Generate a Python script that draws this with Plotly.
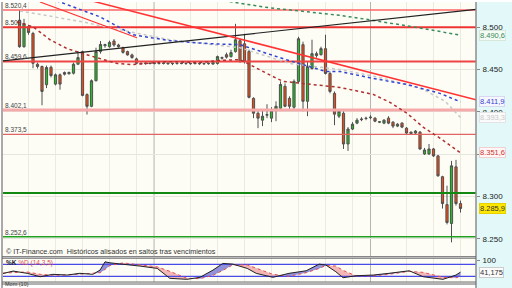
import plotly.graph_objects as go

# ---------------- data ----------------
idx = list(range(99))
opens = [8508.3,8477.0,8500.5,8492.6,8456.3,8453.6,8432.1,8452.7,8432.8,8443.8,
         8446.5,8445.0,8445.7,8456.3,8471.1,8420.4,8406.6,8436.8,8471.2,8478.2,
         8477.0,8483.7,8479.0,8475.8,8471.2,8467.3,8462.6,8457.4,8457.0,8457.6,
         8457.1,8457.5,8457.2,8457.8,8457.0,8457.4,8457.1,8457.5,8457.3,8457.0,
         8456.8,8457.3,8456.9,8456.5,8457.1,8464.1,8467.6,8465.3,8471.2,8484.1,
         8480.5,8471.2,8416.0,8398.4,8390.2,8396.1,8392.6,8403.1,8404.3,8430.1,
         8416.0,8405.5,8436.0,8479.4,8412.5,8451.2,8468.8,8467.6,8474.7,8445.3,
         8421.9,8394.9,8398.4,8362.1,8379.7,8386.7,8390.8,8392.6,8393.1,8392.6,
         8387.9,8386.7,8392.6,8387.9,8383.2,8386.7,8380.8,8376.1,8375.0,8376.1,
         8350.3,8350.3,8356.2,8348.0,8323.4,8290.5,8268.2,8335.1,8291.7]
highs = [8520.4,8509.9,8502.8,8494.6,8458.2,8454.7,8454.7,8454.7,8445.3,8445.3,
         8447.7,8447.7,8458.2,8472.0,8472.3,8421.9,8438.3,8475.8,8483.7,8480.5,
         8484.1,8486.0,8480.5,8477.0,8472.3,8468.8,8464.1,8458.5,8458.4,8458.6,
         8458.9,8458.3,8458.6,8458.5,8458.0,8458.3,8458.2,8458.5,8458.0,8458.4,
         8458.2,8458.0,8458.4,8459.4,8466.5,8465.3,8470.0,8473.5,8504.0,8486.4,
         8492.3,8473.5,8417.2,8400.8,8402.0,8409.0,8405.5,8412.5,8436.0,8433.6,
         8418.4,8438.3,8488.7,8482.9,8459.4,8485.2,8471.2,8477.0,8491.1,8447.7,
         8424.2,8403.1,8400.8,8382.0,8387.9,8392.6,8393.7,8394.3,8396.1,8393.7,
         8389.0,8391.4,8394.9,8389.0,8386.7,8387.9,8382.0,8376.7,8378.5,8377.3,
         8357.4,8362.1,8357.4,8349.2,8324.5,8312.8,8342.1,8343.3,8295.2]
lows = [8475.8,8475.8,8491.1,8451.6,8451.2,8407.8,8428.1,8440.7,8431.3,8426.2,
        8443.0,8444.2,8444.2,8455.9,8418.4,8396.9,8405.5,8436.0,8468.8,8475.8,
        8475.8,8477.0,8475.8,8468.8,8466.5,8462.9,8456.5,8456.0,8455.8,8456.2,
        8456.1,8455.9,8456.0,8455.6,8455.2,8455.9,8456.2,8455.5,8455.8,8456.1,
        8455.6,8455.5,8455.8,8455.8,8455.9,8461.8,8463.0,8464.1,8470.0,8458.2,
        8457.1,8416.0,8392.6,8380.8,8383.2,8392.6,8387.9,8389.0,8403.1,8405.5,
        8403.1,8403.1,8433.6,8400.8,8394.9,8450.0,8464.1,8466.5,8444.2,8421.9,
        8384.3,8392.6,8356.2,8353.9,8378.5,8385.5,8389.0,8390.2,8391.4,8387.9,
        8386.7,8385.5,8385.5,8380.8,8382.0,8380.8,8373.8,8373.8,8373.8,8355.0,
        8349.2,8349.2,8346.8,8323.4,8285.8,8267.1,8245.9,8289.3,8281.1]
closes = [8477.0,8504.3,8493.8,8457.4,8453.6,8424.2,8452.4,8443.0,8443.8,8432.8,
          8444.5,8446.5,8456.3,8464.1,8419.5,8406.6,8436.8,8471.2,8479.7,8479.4,
          8482.1,8479.0,8477.0,8470.3,8467.3,8464.1,8457.4,8457.0,8457.6,8457.1,
          8457.9,8457.2,8457.8,8457.0,8457.4,8457.1,8457.5,8457.3,8457.0,8457.6,
          8457.3,8456.9,8457.4,8458.6,8465.3,8463.5,8464.7,8470.0,8485.2,8459.4,
          8459.4,8417.2,8398.4,8392.6,8394.9,8396.7,8402.0,8406.6,8432.4,8406.6,
          8406.6,8436.0,8486.4,8412.5,8453.6,8468.8,8466.5,8474.7,8445.3,8424.2,
          8397.3,8400.8,8362.1,8379.7,8385.5,8390.2,8391.4,8392.2,8393.7,8389.0,
          8388.3,8390.2,8386.7,8383.2,8385.5,8382.0,8375.0,8374.4,8377.3,8356.2,
          8355.0,8356.2,8348.0,8324.5,8291.7,8269.4,8336.3,8291.7,8285.9]

# horizontal support / resistance levels
level_values = [8520.4, 8500.0, 8459.6, 8402.1, 8373.5, 8304.2, 8252.6]
level_labels = ["8.520,4", "8.500", "8.459,6", "8.402,1", "8.373,5", "", "8.252,6"]

# trend lines (start / end points)
black_trend_x = [-3.67, 101.44]
black_trend_y = [8460.2, 8521.2]
red_trend_x = [15.0, 101.44]
red_trend_y = [8532.6, 8414.3]
red_short_x = [4.56, 26.1]
red_short_y = [8529.8, 8487.6]

# dotted indicator lines
green_x = [40.1, 46.8, 55.7, 62.3, 71.2, 77.9, 86.8, 90.1, 98]
green_y = [8535.7, 8529.8, 8522.8, 8519.2, 8514.0, 8508.7, 8501.6, 8498.1, 8490.6]
blue_x = [5.7, 9, 17.9, 25.2, 33.4, 42.3, 49, 59.2, 68.1, 71.2, 78.6, 86.1, 93.4, 98]
blue_y = [8535.7, 8529.8, 8512.2, 8491.1, 8484.1, 8480.5, 8479.4, 8461.8, 8447.7,
          8447.7, 8439.5, 8432.4, 8421.9, 8411.9]
gray_x = [0.1, 14.1, 20.1, 33.4, 49, 60.1, 71.2, 80.1, 89.7, 94.6, 98]
gray_y = [8519.2, 8506.3, 8499.3, 8485.2, 8475.8, 8457.1, 8450.0, 8440.7, 8426.6,
          8412.5, 8393.3]
darkred_x = [-0.6, 3, 6.8, 10.6, 14.1, 17.9, 21.7, 25.2, 32.8, 40.1, 43.9, 49, 53.2,
             56.3, 58.6, 63, 71.2, 78.6, 82.3, 86.1, 89.7, 93.4, 98]
darkred_y = [8506.3, 8500.5, 8485.2, 8474.7, 8468.8, 8462.9, 8457.1, 8455.9, 8459.4,
             8458.2, 8460.6, 8461.8, 8450.0, 8441.8, 8436.0, 8433.6, 8428.9, 8420.7,
             8411.3, 8398.4, 8382.0, 8369.1, 8351.6]

# stochastic %K %D (14,3,5)
stoch_x = [-3.7, -1.4, 1.7, 4.6, 7.4, 10.6, 13.4, 16.3, 17.9, 19, 20.1, 23, 26.8, 30.6,
           33.4, 37.2, 40.1, 43, 45.2, 47.4, 50.6, 52.6, 56.3, 59.9, 63.7, 66.6, 68.1,
           70.3, 71.9, 74.8, 78.6, 82.1, 86.6, 89.7, 94.1, 97, 98]
stoch_k = [34, 46.5, 35, 17.8, 29.8, 26.3, 35, 29.8, 51.5, 93.4, 88.3, 81.8, 71.7, 60.1,
           9.7, 4.6, 14.7, 51.5, 85.3, 81.8, 60.1, 35, 14.7, 35, 48, 81.8, 76.7, 43, 12.7,
           22.8, 26.3, 35, 48, 17.8, 4.6, 26.3, 41.175]
stoch_d = [36, 40, 42, 30, 25, 27, 30, 33, 38, 55, 75, 88, 78, 68, 45, 10, 8, 25, 50, 78,
           78, 62, 30, 20, 38, 60, 75, 72, 50, 22, 22, 30, 45, 40, 15, 12, 20]
stoch_levels = [80, 20]

price_ticks = [8250, 8300, 8350, 8400, 8450, 8500]
price_ticktext = ["8.250", "8.300", "", "8.400", "8.450", "8.500"]

# ---------------- figure ----------------
W, H = 512, 288
XR = [-3.667, 101.444]
grid_x = [2, 8, 14, 20, 26, 38, 44, 50, 56, 62, 68, 74, 86, 92, 98]
sep_x = [29.9, 78.0]
FONT = "Liberation Sans, Arial, sans-serif"

fig = go.Figure()

level_styles = [("#ff6666", 1.5), ("#ee3333", 2), ("#f04444", 2), ("#f5a9a9", 3),
                ("#e06464", 1.2), ("#128a12", 2), ("#22a022", 1.5)]
for v, (c, w) in zip(level_values, level_styles):
    fig.add_trace(go.Scatter(x=XR, y=[v, v], mode="lines", line=dict(color=c, width=w),
                             hoverinfo="skip", showlegend=False))

for xs, ys, c, w, dash in [
    (gray_x, gray_y, "#c8c8c8", 1.5, "dot"),
    (green_x, green_y, "#3a8a5c", 1.5, "dot"),
    (blue_x, blue_y, "#3344d0", 1.5, "dot"),
    (darkred_x, darkred_y, "#b03030", 1.5, "dot"),
    (black_trend_x, black_trend_y, "#222222", 1.2, "solid"),
    (red_trend_x, red_trend_y, "#ff3333", 1.5, "solid"),
    (red_short_x, red_short_y, "#ff3333", 1.2, "solid"),
]:
    fig.add_trace(go.Scatter(x=xs, y=ys, mode="lines", line=dict(color=c, width=w, dash=dash),
                             hoverinfo="skip", showlegend=False))

fig.add_trace(go.Candlestick(
    x=idx, open=opens, high=highs, low=lows, close=closes,
    increasing=dict(fillcolor="#1ec01e", line=dict(color="#505050", width=1)),
    decreasing=dict(fillcolor="#ee4a14", line=dict(color="#505050", width=1)),
    whiskerwidth=0, showlegend=False, hoverinfo="skip"))

# stochastic fills
blue_px, blue_py, pink_px, pink_py = [], [], [], []
for j in range(len(stoch_x) - 1):
    x0, x1 = stoch_x[j], stoch_x[j + 1]
    k0, k1, d0, d1 = stoch_k[j], stoch_k[j + 1], stoch_d[j], stoch_d[j + 1]
    a0, a1 = k0 - d0, k1 - d1
    if a0 * a1 >= 0:
        tx, ty = (blue_px, blue_py) if (a0 + a1) >= 0 else (pink_px, pink_py)
        tx += [x0, x1, x1, x0, x0, None]
        ty += [k0, k1, d1, d0, k0, None]
    else:
        t = a0 / (a0 - a1)
        xc, yc = x0 + t * (x1 - x0), k0 + t * (k1 - k0)
        tx, ty = (blue_px, blue_py) if a0 > 0 else (pink_px, pink_py)
        tx += [x0, xc, x0, x0, None]
        ty += [k0, yc, d0, k0, None]
        tx, ty = (blue_px, blue_py) if a1 > 0 else (pink_px, pink_py)
        tx += [xc, x1, x1, xc, None]
        ty += [yc, k1, d1, yc, None]
fig.add_trace(go.Scatter(x=blue_px, y=blue_py, mode="lines", fill="toself",
                         fillcolor="rgba(110,110,210,0.75)", line=dict(width=0),
                         xaxis="x2", yaxis="y2", hoverinfo="skip", showlegend=False))
fig.add_trace(go.Scatter(x=pink_px, y=pink_py, mode="lines", fill="toself",
                         fillcolor="rgba(242,170,170,0.85)", line=dict(width=0),
                         xaxis="x2", yaxis="y2", hoverinfo="skip", showlegend=False))
for v in stoch_levels:
    fig.add_trace(go.Scatter(x=XR, y=[v, v], mode="lines", line=dict(color="#4a4ae8", width=1.2),
                             xaxis="x2", yaxis="y2", hoverinfo="skip", showlegend=False))
fig.add_trace(go.Scatter(x=stoch_x, y=stoch_d, mode="lines",
                         line=dict(color="#e05050", width=1, dash="dot"),
                         xaxis="x2", yaxis="y2", hoverinfo="skip", showlegend=False))
fig.add_trace(go.Scatter(x=stoch_x, y=stoch_k, mode="lines",
                         line=dict(color="#222222", width=1),
                         xaxis="x2", yaxis="y2", hoverinfo="skip", showlegend=False))

XD = [3 / W, 476 / W]
main_dom = [1 - 256 / H, 1]
stoch_dom = [1 - 282 / H, 1 - 258 / H]

shapes = []
# right axis panel background
shapes.append(dict(type="rect", xref="paper", yref="paper", x0=476 / W, x1=1, y0=0, y1=1,
                   fillcolor="#e3f9f9", line=dict(width=0), layer="below"))
for sx in sep_x:
    for dom, yr in [(main_dom, "y"), (stoch_dom, "y2")]:
        shapes.append(dict(type="line", xref="x" if yr == "y" else "x2", yref="paper",
                           x0=sx, x1=sx, y0=dom[0], y1=dom[1],
                           line=dict(color="#b4b4b0", width=1), layer="below"))
# borders
shapes.append(dict(type="line", xref="paper", yref="paper", x0=476 / W, x1=476 / W, y0=0, y1=1,
                   line=dict(color="#8c8c8c", width=1.5)))
shapes.append(dict(type="line", xref="paper", yref="paper", x0=2 / W, x1=2 / W, y0=0, y1=1,
                   line=dict(color="#555555", width=1)))
for yy in [256.5, 258.0, 282.0, 284.0]:
    shapes.append(dict(type="line", xref="paper", yref="paper", x0=2 / W, x1=476 / W,
                       y0=1 - yy / H, y1=1 - yy / H, line=dict(color="#666666", width=1)))

annotations = []
for v, t in zip(level_values, level_labels):
    if t:
        annotations.append(dict(xref="paper", yref="y", x=4 / W, y=v, xanchor="left",
                                yanchor="bottom", text=t, showarrow=False,
                                font=dict(family=FONT, size=6.5, color="#444444"),
                                borderpad=0))

boxes = [(8490.6, "8.490,6", "#3a8a5c", "#f4fbf4", "#d8e8d8", "y"),
         (8411.9, "8.411,9", "#3344d0", "#f6f6ff", "#d8d8f0", "y"),
         (8393.3, "8.393,3", "#c8c8c8", "#fbfbfb", "#e4e4e4", "y"),
         (8351.6, "8.351,6", "#d03030", "#fff6f6", "#f0d0d0", "y"),
         (8285.9, "8.285,9", "#333333", "#ffe800", "#e8d000", "y"),
         (41.175, "41,175", "#333333", "#fbfbfb", "#cccccc", "y2")]
for v, t, fc, bg, bc, yr in boxes:
    annotations.append(dict(xref="paper", yref=yr, x=479 / W, y=v, xanchor="left",
                            yanchor="middle", text=t, showarrow=False,
                            font=dict(family=FONT, size=7.5, color=fc),
                            bgcolor=bg, bordercolor=bc, borderwidth=1, borderpad=0))

annotations.append(dict(xref="paper", yref="paper", x=4 / W, y=1 - 251.5 / H, xanchor="left",
                        yanchor="middle", showarrow=False,
                        text="© IT-Finance.com  Históricos alisados en saltos tras vencimientos",
                        font=dict(family=FONT, size=7.2, color="#333333")))
annotations.append(dict(xref="paper", yref="paper", x=4 / W, y=1 - 262.5 / H, xanchor="left",
                        yanchor="middle", showarrow=False,
                        text="<b>%K</b> <span style='color:#e05050'>%D (14,3,5)</span>",
                        font=dict(family=FONT, size=6.5, color="#222222")))
annotations.append(dict(xref="paper", yref="paper", x=4 / W, y=0, xanchor="left",
                        yanchor="bottom", showarrow=False, text="Mom (10)",
                        font=dict(family=FONT, size=5.5, color="#333333"), borderpad=0))

fig.update_layout(
    width=W, height=H, margin=dict(l=0, r=0, t=0, b=0),
    paper_bgcolor="#ffffff", plot_bgcolor="#fdfdf6",
    showlegend=False, shapes=shapes, annotations=annotations,
    font=dict(family=FONT, size=8, color="#222222"),
    xaxis=dict(domain=XD, range=XR, anchor="y", tickvals=grid_x, showticklabels=False,
               showgrid=True, gridcolor="#ecebdf", gridwidth=1, zeroline=False,
               rangeslider=dict(visible=False), fixedrange=True, ticks=""),
    yaxis=dict(domain=main_dom, range=[8229.5, 8529.8], side="right", anchor="x",
               tickvals=price_ticks, ticktext=price_ticktext, showgrid=True,
               gridcolor="#e6e6df", zeroline=False, ticks="outside", ticklen=3,
               tickcolor="#888888", tickfont=dict(family=FONT, size=8, color="#222222"),
               ticklabelstandoff=1),
    xaxis2=dict(domain=XD, range=XR, anchor="y2", tickvals=grid_x, showticklabels=False,
                showgrid=True, gridcolor="#ecebdf", zeroline=False, ticks=""),
    yaxis2=dict(domain=stoch_dom, range=[-9.2, 111.8], side="right", anchor="x2",
                tickvals=[100], ticktext=["100"], showgrid=False, zeroline=False,
                ticks="outside", ticklen=3, tickcolor="#888888",
                tickfont=dict(family=FONT, size=8, color="#222222"), ticklabelstandoff=1),
)

fig.write_html("out.html")
